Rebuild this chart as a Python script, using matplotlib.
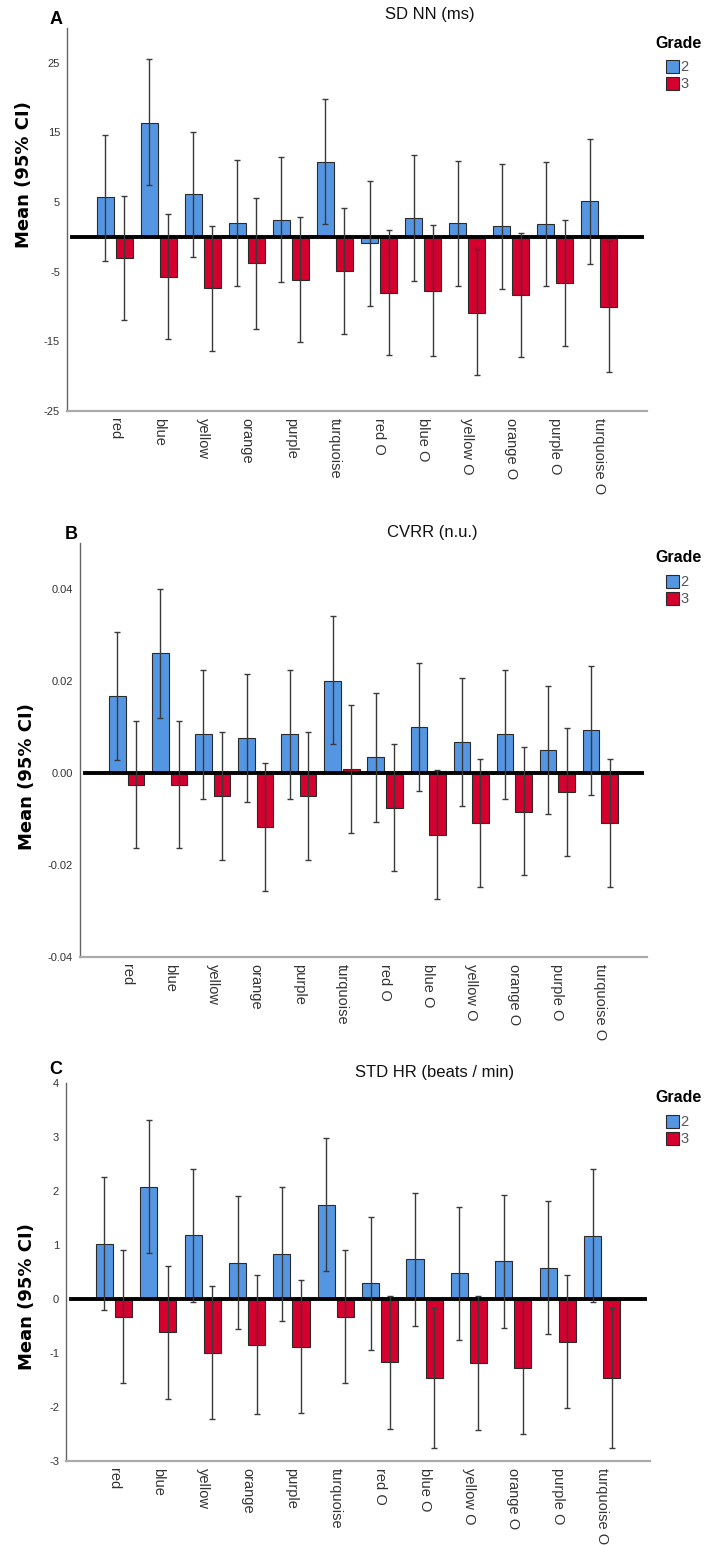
import numpy as np
import matplotlib
matplotlib.use("Agg")
import matplotlib.pyplot as plt
from matplotlib.patches import Rectangle

plt.rcParams['font.family'] = ['Liberation Sans', 'DejaVu Sans']
plt.rcParams['axes.unicode_minus'] = False

W, H = 704, 1546

cats = ['red', 'blue', 'yellow', 'orange', 'purple', 'turquoise',
        'red O', 'blue O', 'yellow O', 'orange O', 'purple O', 'turquoise O']
grades = ['2', '3']

# panel A: SD NN (ms)
sdnn_mean2 = [5.7, 16.4, 6.1, 2.0, 2.5, 10.8, -0.9, 2.7, 2.0, 1.5, 1.9, 5.1]
sdnn_hi2 = [14.6, 25.5, 15.1, 11.0, 11.5, 19.8, 8.1, 11.7, 10.9, 10.5, 10.8, 14.1]
sdnn_lo2 = [-3.4, 7.5, -2.9, -7.0, -6.5, 1.9, -9.9, -6.3, -7.1, -7.5, -7.1, -3.9]
sdnn_mean3 = [-3.1, -5.8, -7.4, -3.8, -6.2, -4.9, -8.0, -7.7, -10.9, -8.4, -6.6, -10.0]
sdnn_hi3 = [5.9, 3.3, 1.6, 5.6, 2.9, 4.2, 1.0, 1.7, -1.8, 0.6, 2.4, -0.6]
sdnn_lo3 = [-12.0, -14.7, -16.4, -13.2, -15.1, -13.9, -16.9, -17.1, -19.8, -17.3, -15.6, -19.4]

# panel B: CVRR (n.u.)
cvrr_mean2 = [0.0168, 0.0260, 0.0084, 0.0076, 0.0084, 0.0201, 0.0035, 0.0101, 0.0068, 0.0084, 0.0051, 0.0093]
cvrr_hi2 = [0.0306, 0.0399, 0.0224, 0.0215, 0.0224, 0.0341, 0.0173, 0.0240, 0.0206, 0.0224, 0.0190, 0.0232]
cvrr_lo2 = [0.0029, 0.0120, -0.0056, -0.0064, -0.0056, 0.0062, -0.0106, -0.0039, -0.0072, -0.0056, -0.0089, -0.0047]
cvrr_mean3 = [-0.0025, -0.0025, -0.0051, -0.0118, -0.0051, 0.0009, -0.0075, -0.0134, -0.0109, -0.0084, -0.0042, -0.0109]
cvrr_hi3 = [0.0114, 0.0114, 0.0090, 0.0022, 0.0090, 0.0148, 0.0064, 0.0006, 0.0031, 0.0056, 0.0098, 0.0031]
cvrr_lo3 = [-0.0164, -0.0164, -0.0189, -0.0256, -0.0189, -0.0130, -0.0214, -0.0273, -0.0248, -0.0222, -0.0181, -0.0248]

# panel C: STD HR (beats / min)
stdhr_mean2 = [1.02, 2.08, 1.18, 0.67, 0.84, 1.74, 0.30, 0.74, 0.48, 0.70, 0.58, 1.17]
stdhr_hi2 = [2.26, 3.31, 2.41, 1.91, 2.07, 2.98, 1.52, 1.96, 1.70, 1.93, 1.81, 2.40]
stdhr_lo2 = [-0.21, 0.85, -0.05, -0.56, -0.40, 0.51, -0.94, -0.50, -0.76, -0.54, -0.65, -0.06]
stdhr_mean3 = [-0.33, -0.62, -1.00, -0.85, -0.88, -0.33, -1.17, -1.47, -1.19, -1.27, -0.79, -1.47]
stdhr_hi3 = [0.90, 0.61, 0.24, 0.44, 0.36, 0.91, 0.06, -0.17, 0.05, -0.04, 0.45, -0.17]
stdhr_lo3 = [-1.56, -1.86, -2.23, -2.13, -2.11, -1.56, -2.40, -2.75, -2.42, -2.50, -2.02, -2.75]

BLUE = '#5596e2'
RED = '#d5002e'

fig = plt.figure(figsize=(W / 100, H / 100), dpi=100)


def fx(x):
    return x / W


def fy(y):
    return 1 - y / H


def panel(box, letter, title, means, ylim, yticks, fmt, title_xy, letter_xy, ylab_xy):
    left, top, right, bottom = box
    ax = fig.add_axes([fx(left), fy(bottom), fx(right - left), (bottom - top) / H])
    x = np.arange(len(cats))
    off = 0.215
    m2, lo2, hi2, m3, lo3, hi3 = [np.array(v) for v in means]
    ax.bar(x - off, m2, 0.385, color=BLUE, edgecolor='#2a2a2a', linewidth=0.8, zorder=2)
    ax.bar(x + off, m3, 0.385, color=RED, edgecolor='#2a2a2a', linewidth=0.8, zorder=2)
    ax.errorbar(x - off, m2, yerr=[m2 - lo2, hi2 - m2], fmt='none', ecolor='#3a3a3a',
                elinewidth=1.0, capsize=2.2, capthick=1.0, zorder=4)
    ax.errorbar(x + off, m3, yerr=[m3 - lo3, hi3 - m3], fmt='none', ecolor='#3a3a3a',
                elinewidth=1.0, capsize=2.2, capthick=1.0, zorder=4)
    ax.axhline(0, xmin=0.008, xmax=0.992, color='black', linewidth=2.8, zorder=3)

    ax.set_xlim(-1.08, len(cats) - 1 + 1.08)
    ax.set_ylim(*ylim)
    ax.set_yticks(yticks)
    ax.set_yticklabels([fmt.format(t) for t in yticks])
    ax.set_xticks(x)
    ax.set_xticklabels(cats, rotation=270, ha='center', va='top')
    ax.tick_params(axis='y', length=0, pad=5, labelsize=8, labelcolor='#333333')
    ax.tick_params(axis='x', length=0, pad=5, labelsize=10.5, labelcolor='#333333')
    for s in ['top', 'right']:
        ax.spines[s].set_visible(False)
    ax.spines['left'].set_color('#666666')
    ax.spines['left'].set_linewidth(1.0)
    ax.spines['bottom'].set_color('#aaaaaa')
    ax.spines['bottom'].set_linewidth(1.6)

    fig.text(fx(title_xy[0]), fy(title_xy[1]), title, ha='center', va='center', fontsize=12,
             color='#111111')
    fig.text(fx(letter_xy[0]), fy(letter_xy[1]), letter, ha='center', va='center', fontsize=13,
             fontweight='bold')
    fig.text(fx(ylab_xy[0]), fy(ylab_xy[1]), 'Mean (95% CI)', ha='center', va='center',
             rotation=90, fontsize=13, fontweight='bold', family=['DejaVu Sans'])

    # legend
    fig.text(fx(655), fy(top + 15), 'Grade', ha='left', va='center', fontsize=11.5,
             fontweight='bold')
    for k, (g, c) in enumerate(zip(grades, [BLUE, RED])):
        y0 = top + 32 + k * 16.8
        fig.add_artist(Rectangle((fx(666), fy(y0 + 13)), 12.5 / W, 13 / H, transform=fig.transFigure,
                                 facecolor=c, edgecolor='#2a2a2a', linewidth=0.8))
        fig.text(fx(680), fy(y0 + 6.8), g, ha='left', va='center', fontsize=10.5, color='#555555')
    return ax


panel((67, 28, 647, 411), 'A', 'SD NN (ms)',
      [sdnn_mean2, sdnn_lo2, sdnn_hi2, sdnn_mean3, sdnn_lo3, sdnn_hi3],
      (-25, 30), [-25, -15, -5, 5, 15, 25], '{:g}',
      (430, 15), (56, 19), (24, 175))

panel((80, 543, 647, 957), 'B', 'CVRR (n.u.)',
      [cvrr_mean2, cvrr_lo2, cvrr_hi2, cvrr_mean3, cvrr_lo3, cvrr_hi3],
      (-0.04, 0.05), [-0.04, -0.02, 0.0, 0.02, 0.04], '{:.2f}',
      (432, 533), (71, 535), (27, 777))

panel((66, 1083, 650, 1461), 'C', 'STD HR (beats / min)',
      [stdhr_mean2, stdhr_lo2, stdhr_hi2, stdhr_mean3, stdhr_lo3, stdhr_hi3],
      (-3, 4), [-3, -2, -1, 0, 1, 2, 3, 4], '{:g}',
      (435, 1072), (56, 1070), (27, 1297))

plt.savefig('out.png', dpi=100)
